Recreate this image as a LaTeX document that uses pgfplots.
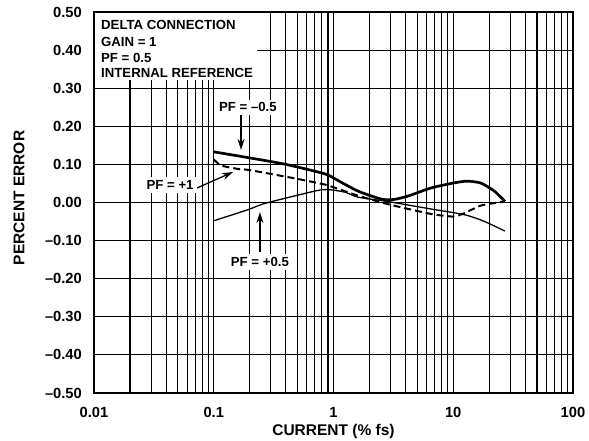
\documentclass[border=0pt]{standalone}
\usepackage{fontspec}
\setmainfont{Liberation Sans}
\usepackage{pgfplots}
\pgfplotsset{compat=1.18}
\usetikzlibrary{arrows.meta}
\newcommand{\f}{\fontsize{13.2}{16}\selectfont\bfseries}
\newcommand{\ft}{\fontsize{14.7}{17}\selectfont\bfseries}
\newcommand{\fl}{\fontsize{15.5}{18}\selectfont\bfseries}
\begin{document}
\begin{tikzpicture}
\useasboundingbox (-94pt,-48pt) rectangle (495pt,393pt);
\begin{axis}[at={(0pt,0pt)}, anchor=south west, scale only axis,
  width=479pt, height=381pt,
  xmode=log, xmin=0.01, xmax=100, ymin=-0.5, ymax=0.5,
  xtick={0.01,0.1,1,10,100}, xticklabels={0.01,0.1,1,10,100},
  ytick={-0.5,-0.4,-0.3,-0.2,-0.1,0,0.1,0.2,0.3,0.4,0.5},
  yticklabels={–0.50,–0.40,–0.30,–0.20,–0.10,0.00,0.10,0.20,0.30,0.40,0.50},
  xmajorgrids, xminorgrids, ymajorgrids,
  major grid style={black, line width=1.1pt},
  minor grid style={black, line width=1.1pt},
  major tick length=0pt, minor tick length=0pt,
  axis line style={line width=1.3pt},
  tick label style={font=\ft},
  yticklabel style={inner sep=0pt, anchor=east, xshift=-12pt},
  xticklabel style={inner sep=0pt, anchor=north, yshift=-13.7pt},
  /pgf/number format/assume math mode=true,
  xlabel={CURRENT (\% fs)}, ylabel={PERCENT ERROR},
  every axis x label/.style={at={(rel axis cs:0.5,0)}, anchor=center, yshift=-38.5pt, font=\fl},
  every axis y label/.style={at={(rel axis cs:0,0.512)}, xshift=-75pt, anchor=center, rotate=90, font=\fl},
]
\addplot[black, line width=2.7pt, smooth, tension=0.4] coordinates {
 (0.1,0.133) (0.2,0.117) (0.4,0.100) (0.85,0.075) (1.1,0.057) (1.6,0.030)
 (2.5,0.009) (3.2,0.008) (4.2,0.017) (6.5,0.038) (10,0.051) (13,0.056)
 (17,0.051) (22,0.030) (27,0.003)};
\addplot[black, line width=2pt, dash pattern=on 7pt off 4pt, smooth, tension=0.3] coordinates {
 (0.1,0.113) (0.115,0.097) (0.16,0.088) (0.2,0.085) (0.5,0.062) (0.85,0.047)
 (1.0,0.040) (1.6,0.018) (2.9,-0.005) (6.5,-0.030) (10,-0.037) (12.4,-0.028)
 (17,-0.008) (27,0.003)};
\addplot[black, line width=1.3pt, smooth, tension=0.4] coordinates {
 (0.1,-0.048) (0.197,-0.018) (0.27,-0.002) (0.7,0.030) (0.9,0.034) (1.25,0.027)
 (1.6,0.014) (2.9,0.002) (6.5,-0.017) (12.4,-0.032) (18,-0.049) (27,-0.075)};
% annotation box
\fill[white] (rel axis cs:0,1) rectangle (axis cs:0.2296,0.3215);
\node[anchor=base west, inner sep=0pt, font=\f] at (axis cs:0.01144,0.4528) {DELTA CONNECTION};
\node[anchor=base west, inner sep=0pt, font=\f] at (axis cs:0.01144,0.4090) {GAIN = 1};
\node[anchor=base west, inner sep=0pt, font=\f] at (axis cs:0.01144,0.3670) {PF = 0.5};
\node[anchor=base west, inner sep=0pt, font=\f] at (axis cs:0.01144,0.3285) {INTERNAL REFERENCE};
\draw[line width=1.3pt, -{Stealth[length=11pt,width=7pt]}] (axis cs:0.169,0.23) -- (axis cs:0.169,0.138);
\node[fill=white, font=\f, inner sep=3pt] at (axis cs:0.193,0.25) {PF = –0.5};
\draw[line width=1.3pt, -{Stealth[length=11pt,width=7pt]}] (axis cs:0.0724,0.038) -- (axis cs:0.145,0.080);
\node[fill=white, font=\f, inner sep=3pt] at (axis cs:0.0432,0.046) {PF = +1};
\draw[line width=1.3pt, -{Stealth[length=11pt,width=7pt]}] (axis cs:0.243,-0.130) -- (axis cs:0.243,-0.025);
\node[fill=white, font=\f, inner sep=3pt] at (axis cs:0.243,-0.156) {PF = +0.5};
\draw[line width=1.3pt] (rel axis cs:0,0) rectangle (rel axis cs:1,1);
\end{axis}
\end{tikzpicture}
\end{document}
